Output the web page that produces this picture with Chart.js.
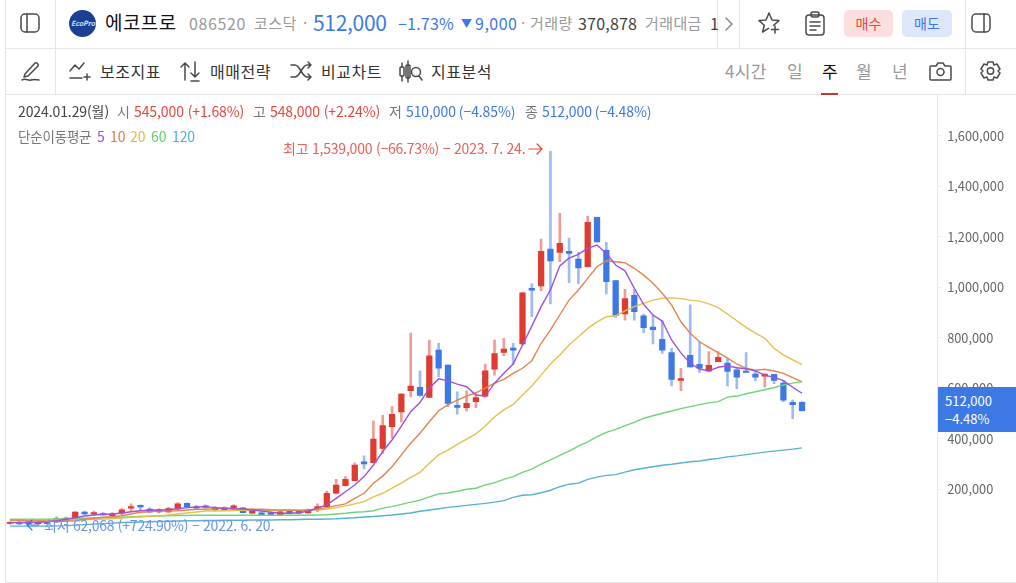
<!DOCTYPE html>
<html lang="ko">
<head>
<meta charset="utf-8">
<title>에코프로 주봉</title>
<script src="https://cdn.jsdelivr.net/npm/chart.js@4"></script>
<style>
  html, body { margin: 0; padding: 0; background: #fff; }
  body { width: 1016px; height: 583px; overflow: hidden; position: relative; font-family: "Noto Sans CJK KR", "Noto Sans", sans-serif; color: #222; }
  canvas { position: absolute; left: 0; top: 95px; }
  .t { position: absolute; white-space: nowrap; line-height: 20px; height: 20px; }
  .line { position: absolute; background: #e6e6e6; }
  svg { position: absolute; fill: none; stroke: #4a4a4a; stroke-width: 1.5; stroke-linecap: round; stroke-linejoin: round; }
  .gray { color: #999; }
  .red { color: #e5483e; }
  .blue { color: #3d79e5; }
  .s13 { font-size: 14px; letter-spacing: -0.1px; }
  .s15 { font-size: 15px; letter-spacing: 0.4px; }
  .num { font-size: 16px; letter-spacing: 0.2px; }
  .tool { font-size: 16px; letter-spacing: 0.5px; color: #333; }
  .period { font-size: 17px; letter-spacing: 0.3px; color: #999; }
  .btn { position: absolute; top: 10px; height: 27px; line-height: 26px; width: 49px; text-align: center; font-size: 14px; border-radius: 5px; }
  .tag { position: absolute; left: 938px; top: 387px; width: 78px; height: 45px; background: #3d79e5; color: #fff; font-size: 13px; }
  .tag div { position: absolute; left: 7px; line-height: 18px; }
</style>
</head>
<body>
  <div class="line" style="left:5px;top:0;width:1px;height:583px"></div>
  <div class="line" style="left:55px;top:0;width:1px;height:94px"></div>
  <div class="line" style="left:717px;top:0;width:1px;height:48px"></div>
  <div class="line" style="left:739px;top:0;width:1px;height:48px"></div>
  <div class="line" style="left:965px;top:0;width:1px;height:94px"></div>
  <div class="line" style="left:5px;top:48px;width:1011px;height:1px"></div>
  <div class="line" style="left:5px;top:94px;width:1011px;height:1px"></div>
  <div class="line" style="left:5px;top:582px;width:1011px;height:1px"></div>

  <canvas id="chart" width="1016" height="488"></canvas>

  <!-- top row -->
  <svg style="left:20px;top:13px" width="20" height="20" viewBox="0 0 20 20"><rect x="1" y="1" width="18" height="18" rx="4"/><path d="M7 1v18"/></svg>
  <svg style="left:69px;top:10px;stroke:none" width="27" height="27" viewBox="0 0 27 27"><circle cx="13.5" cy="13.5" r="13.5" fill="#1a3f94"/></svg>
  <div class="t" style="left:71px;top:13px;font-size:7px;font-style:italic;color:#cfe0ff;font-weight:700">EcoPro</div>
  <div class="t" style="left:105px;top:12px;font-size:19px;color:#111;letter-spacing:0.4px">에코프로</div>
  <div class="t gray num" style="left:189px;top:13px;letter-spacing:0.6px">086520</div>
  <div class="t gray s15" style="left:254px;top:13px">코스닥</div>
  <div class="t gray s15" style="left:303px;top:13px">·</div>
  <div class="t blue" style="left:313px;top:12px;font-size:21px;letter-spacing:-0.3px">512,000</div>
  <div class="t blue num" style="left:398px;top:13px">−1.73%</div>
  <div class="t blue" style="left:461px;top:13px;font-size:11px">▼</div>
  <div class="t blue num" style="left:475px;top:13px;letter-spacing:0.5px">9,000</div>
  <div class="t gray s15" style="left:521px;top:13px">·</div>
  <div class="t gray s15" style="left:530px;top:13px">거래량</div>
  <div class="t num" style="left:578px;top:13px;color:#444">370,878</div>
  <div class="t gray s15" style="left:645px;top:13px">거래대금</div>
  <div class="t num" style="left:710px;top:13px;color:#444">1</div>
  <svg style="left:724px;top:16px;stroke:#888" width="10" height="16" viewBox="0 0 10 16"><path d="M2 2l6 6-6 6"/></svg>
  <svg style="left:757px;top:11px" width="26" height="24" viewBox="0 0 26 24"><path d="M12 2l3 7 7 .6-5.4 4.6M12 2L9 9l-7 .6 5.3 4.6L5.6 21l6-3.6"/><path d="M18 15v7M14.500 18.500h7"/></svg>
  <svg style="left:804px;top:11px" width="22" height="25" viewBox="0 0 22 25"><rect x="2" y="4" width="18" height="20" rx="3"/><rect x="7" y="1" width="8" height="5" rx="2"/><path d="M6 11h10M6 15h10M6 19h6"/></svg>
  <div class="btn red" style="left:844px;background:#fbdfde">매수</div>
  <div class="btn blue" style="left:902px;width:50px;background:#dde6fa">매도</div>
  <svg style="left:971px;top:13px" width="20" height="20" viewBox="0 0 20 20"><rect x="1" y="1" width="18" height="18" rx="4"/><path d="M13 1v18"/></svg>

  <!-- tool row -->
  <svg style="left:20px;top:60px" width="21" height="22" viewBox="0 0 21 22"><path d="M5 14L15 3c1-1 4 1 3 3L8 16l-4 1zM2 20c4-2 6 1 9 0s4-1 8 0"/></svg>
  <svg style="left:69px;top:61px" width="22" height="20" viewBox="0 0 22 20"><path d="M1 10l5-6 4 4 5-6M1 17h12M18 13v6M15 16h6"/></svg>
  <div class="t tool" style="left:100px;top:61px">보조지표</div>
  <svg style="left:179px;top:60px" width="22" height="22" viewBox="0 0 22 22"><path d="M6 20V3M2 7l4-4 4 4M16 2v15M12 13l4 4 4-4M12 21h8"/></svg>
  <div class="t tool" style="left:210px;top:61px">매매전략</div>
  <svg style="left:290px;top:61px" width="22" height="20" viewBox="0 0 22 20"><path d="M1 4h4c5 0 7 12 12 12h4M1 16h4c5 0 7-12 12-12h4M18 1l3 3-3 3M18 13l3 3-3 3"/></svg>
  <div class="t tool" style="left:321px;top:61px">비교차트</div>
  <svg style="left:399px;top:60px" width="24" height="23" viewBox="0 0 24 23"><rect x="1" y="7" width="4" height="9" rx="1"/><path d="M3 3v4M3 16v5M9 1v21"/><rect x="7" y="5" width="4" height="13" rx="1"/><circle cx="17" cy="12" r="4.500"/><path d="M20 16l3 4"/></svg>
  <div class="t tool" style="left:431px;top:61px">지표분석</div>
  <div class="t period" style="left:725px;top:61px">4시간</div>
  <div class="t period" style="left:787px;top:61px">일</div>
  <div class="t period" style="left:822px;top:61px;color:#111">주</div>
  <div class="t period" style="left:856px;top:61px">월</div>
  <div class="t period" style="left:892px;top:61px">년</div>
  <div style="position:absolute;left:821px;top:93px;width:17px;height:2px;background:#c0392b"></div>
  <svg style="left:929px;top:61px" width="23" height="20" viewBox="0 0 23 20"><path d="M2 5h5l2-3h5l2 3h5a1 1 0 011 1v12a1 1 0 01-1 1H2a1 1 0 01-1-1V6a1 1 0 011-1z"/><circle cx="11.500" cy="11" r="3.500"/></svg>
  <svg style="left:980px;top:60px" width="21" height="22" viewBox="0 0 21 22"><path d="M8 2h5l1 3 3-1 3 5-2 2 2 2-3 5-3-1-1 3H8l-1-3-3 1-3-5 2-2-2-2 3-5 3 1z"/><circle cx="10.500" cy="11" r="3.200"/></svg>

  <!-- price info -->
  <div class="t s13" style="left:18px;top:101px;color:#444">2024.01.29(월)</div>
  <div class="t s13" style="left:117px;top:101px;color:#777">시</div>
  <div class="t s13 red" style="left:134px;top:101px">545,000 (+1.68%)</div>
  <div class="t s13" style="left:253px;top:101px;color:#777">고</div>
  <div class="t s13 red" style="left:270px;top:101px">548,000 (+2.24%)</div>
  <div class="t s13" style="left:389px;top:101px;color:#777">저</div>
  <div class="t s13 blue" style="left:406px;top:101px">510,000 (−4.85%)</div>
  <div class="t s13" style="left:525px;top:101px;color:#777">종</div>
  <div class="t s13 blue" style="left:542px;top:101px">512,000 (−4.48%)</div>

  <div class="t s13" style="left:18px;top:126px;color:#777;font-size:13.5px;letter-spacing:-0.2px">단순이동평균</div>
  <div class="t s13" style="left:97px;top:126px;color:#a24fdc">5</div>
  <div class="t s13" style="left:110px;top:126px;color:#e07b45">10</div>
  <div class="t s13" style="left:130px;top:126px;color:#e3b93c">20</div>
  <div class="t s13" style="left:151px;top:126px;color:#5fcf6b">60</div>
  <div class="t s13" style="left:172px;top:126px;color:#4fb0d0">120</div>

  <div class="t s13" style="left:283px;top:138px;color:#e5635a;letter-spacing:-0.22px">최고 1,539,000 (−66.73%) − 2023. 7. 24.</div>
  <svg style="left:528px;top:143px;stroke:#e5483e;stroke-width:1.2" width="16" height="12" viewBox="0 0 16 12"><path d="M1 6h13M9 1l5 5-5 5"/></svg>
  <div class="t s13" style="left:44px;top:515px;color:#6a96ea;letter-spacing:-0.25px">최저 62,068 (+724.90%) − 2022. 6. 20.</div>
  <svg style="left:26px;top:519px;stroke:#3d79e5;stroke-width:1.2" width="14" height="12" viewBox="0 0 14 12"><path d="M13 6H1M6 1L1 6l5 5"/></svg>

  <div class="tag"><div style="top:5px">512,000</div><div style="top:23px">−4.48%</div></div>

<script>
// weekly candles, prices in thousands of won
const weeks = ['2022-06-13','06-20','06-27','07-04','07-11','07-18','07-25','08-01','08-08','08-15','08-22','08-29','09-05','09-12','09-19','09-26','10-03','10-10','10-17','10-24','10-31','11-07','11-14','11-21','11-28','12-05','12-12','12-19','12-26',
  '2023-01-02','01-09','01-16','01-23','01-30','02-06','02-13','02-20','02-27','03-06','03-13','03-20','03-27','04-03','04-10','04-17','04-24','05-01','05-08','05-15','05-22','05-29','06-05','06-12','06-19','06-26','07-03','07-10','07-17','07-24','07-31','08-07','08-14','08-21','08-28','09-04','09-11','09-18','09-25','10-02','10-09','10-16','10-23','10-30','11-06','11-13','11-20','11-27','12-04','12-11','12-18','12-25',
  '2024-01-01','01-08','01-15','01-22','01-29'];

const opens = [66,69,72,65,73,72,87,82,111,103,105,96,106,126,137,122,111,111,123,145,132,135,129,119,124,127,106,108,108,100,115,115,107,
  119,132,185,215,235,310,306,363,449,507,591,605,565,752,693,533,524,548,570,676,743,760,776,997,1006,1152,1139,1143,1112,1082,1278,1147,1027,895,969,888,843,795,742,632,731,696,669,706,701,674,669,657,649,656,621,545,545];
const highs = [73,75,77,73,79,92,91,113,115,115,109,109,124,143,139,127,124,129,148,147,137,139,132,131,139,129,119,112,113,116,119,117,123,
  143,194,240,251,306,333,471,494,528,580,819,670,792,779,695,587,591,578,697,792,799,779,981,1014,1192,1539,1294,1196,1139,1283,1279,1179,1028,993,993,895,891,868,759,680,931,785,746,746,720,684,742,673,657,656,631,554,548];
const lows = [63,62.068,63,63,63,69,73,80,99,98,97,93,98,116,116,108,107,109,119,129,123,127,117,115,116,107,104,98,97,99,103,103,105,
  112,131,181,214,234,281,305,343,403,468,567,570,564,647,528,498,511,524,565,653,730,696,772,884,987,935,1102,1019,1015,1081,1179,974,880,871,871,821,776,739,610,591,684,664,669,706,610,599,664,631,605,619,548,480,510];
const closes = [70,64,64,70,65,85,76,111,103,109,99,105,119,132,131,111,119,124,143,132,126,129,119,127,135,108,115,100,99,112,106,106,120,
  132,185,217,240,297,301,400,453,498,578,610,573,729,680,541,525,541,564,670,738,756,752,979,989,1143,1105,1175,1135,1077,1258,1180,1023,888,956,904,841,833,752,636,639,685,680,692,723,668,645,664,645,657,632,554,536,512];

const ma5 = [69,69,69,70,72,76,82,88,95,99,102,103,107,112,116,118,119,120,124,128,131,132,128,126,124,123,119,115,110,106,106,108,115,
  126,139,165,191,218,251,297,350,396,451,508,544,601,638,630,617,607,574,570,621,660,697,772,847,924,990,1085,1116,1131,1155,1168,1135,1089,1066,997,933,891,867,792,741,700,677,670,684,690,682,678,670,653,644,631,605,581];
const ma10 = [79,78,76,75,74,75,75,76,82,86,90,92,96,103,110,112,115,115,116,119,122,122,124,126,124,122,122,122,120,119,119,118,119,
  123,128,136,143,165,185,225,253,290,337,383,423,468,512,535,554,570,583,601,621,636,660,680,710,779,832,891,950,990,1036,1082,1106,1102,1098,1076,1049,1017,977,931,864,819,785,763,742,720,697,680,672,676,669,660,643,626];
const ma20 = [79,79,78,78,78,79,79,79,80,82,83,84,87,90,92,95,96,99,103,107,111,115,115,116,117,118,118,118,118,118,118,118,119,
  119,123,128,135,143,152,171,185,205,225,248,268,304,337,356,379,399,420,451,488,515,537,574,610,653,697,733,772,805,838,864,884,888,907,924,937,950,958,959,956,950,946,935,920,895,868,842,819,799,759,733,713,694];
const ma60 = [82,82,82,82,82,83,84,85,86,87,88,89,90,92,93,94,95,96,97,97,98,98,98,98,98,98,98,98,98,98,98,98,98,
  99,100,103,106,110,112,116,126,132,141,150,158,171,182,186,193,201,205,218,227,240,251,268,281,300,317,335,352,372,389,409,426,438,453,466,482,492,502,511,520,528,536,543,548,566,570,579,587,595,603,614,621,627];
const ma120 = [55,55,55,55,55,56,57,59,61,63,65,67,69,70,71,72,73,74,75,76,76,77,77,78,78,78,79,79,79,80,80,81,82,
  82,83,84,86,88,91,93,96,99,103,107,114,119,124,129,133,137,141,145,150,156,169,177,179,187,197,211,221,225,240,249,256,259,269,278,284,290,296,300,305,310,313,319,323,329,333,338,343,348,352,356,360,365];

const priceTicks = [200,400,600,800,1000,1200,1400,1600];

const RED = '#df3b30', BLUE = '#3d79e5';
const RED_WICK = 'rgba(229,72,62,.55)', BLUE_WICK = 'rgba(61,121,229,.5)';

// empty weeks on the right leave room after the last candle
const labels = weeks.concat(Array(14).fill(''));
const isUp = closes.map((c, i) => c > opens[i]);

function maLine(label, data, color) {
  return { type: 'line', label, data, borderColor: color, borderWidth: 1.4, pointRadius: 0, tension: 0, order: 1 };
}

new Chart(document.getElementById('chart'), {
  type: 'bar',
  data: {
    labels: labels,
    datasets: [
      maLine('5', ma5, '#a24fdc'),
      maLine('10', ma10, '#e08552'),
      maLine('20', ma20, '#e5c04f'),
      maLine('60', ma60, '#6fd47a'),
      maLine('120', ma120, '#58b2cf'),
      {
        label: 'body',
        data: opens.map((o, i) => [o, closes[i]]),
        backgroundColor: isUp.map(u => u ? RED : BLUE),
        barThickness: 5.6,
        grouped: false,
        order: 2
      },
      {
        label: 'wick',
        data: lows.map((l, i) => [l, highs[i]]),
        backgroundColor: isUp.map(u => u ? RED_WICK : BLUE_WICK),
        barThickness: 2,
        grouped: false,
        order: 3
      }
    ]
  },
  options: {
    responsive: false,
    animation: false,
    devicePixelRatio: 1,
    layout: { autoPadding: false, padding: { left: 5.34, right: 0, top: 0, bottom: 0 } },
    plugins: { legend: { display: false }, tooltip: { enabled: false } },
    scales: {
      x: { display: false },
      y: {
        position: 'right',
        min: -170.3,
        max: 1762.2,
        afterBuildTicks: axis => { axis.ticks = priceTicks.map(v => ({ value: v })); },
        afterFit: axis => {
          axis.width = 78.86;
          // the labels sit well inside the plot, so no room is needed at the ends
          axis.paddingTop = 0;
          axis.paddingBottom = 0;
        },
        grid: { drawOnChartArea: false, color: '#eee', tickLength: 4 },
        border: { color: '#e6e6e6' },
        ticks: {
          color: '#666',
          padding: 6,
          font: { family: '"Noto Sans CJK KR", "Noto Sans", sans-serif', size: 12.8 },
          callback: v => (v * 1000).toLocaleString('en-US')
        }
      }
    }
  }
});
</script>
</body>
</html>
